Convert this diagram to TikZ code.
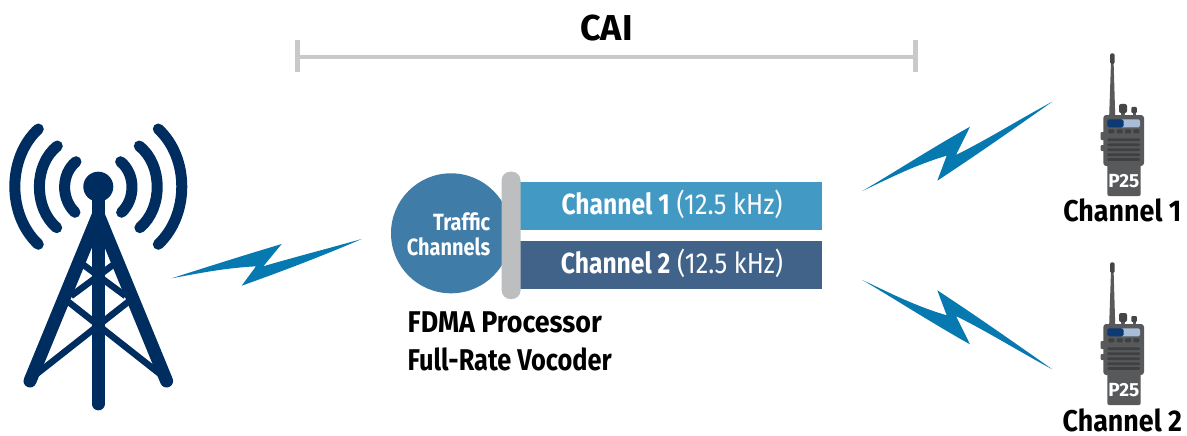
\documentclass[tikz,border=0pt]{standalone}
\usepackage{fontspec}
\setmainfont[FakeStretch=0.87]{Fira Sans}
\newfontfamily\medfont[FakeStretch=0.85]{Fira Sans}
\newfontfamily\lblfont[FakeStretch=0.895]{Fira Sans}
\newfontfamily\lblnarrow[FakeStretch=0.845]{Fira Sans}
\newfontfamily\caifont[FakeStretch=1.0]{Fira Sans}
\definecolor{navy}{HTML}{002D5F}
\definecolor{bolt}{HTML}{0579B0}
\definecolor{barg}{HTML}{BCBEC0}
\definecolor{caig}{HTML}{C8C9CB}
\definecolor{circ}{HTML}{3F7CA8}
\definecolor{chA}{HTML}{4299C4}
\definecolor{chB}{HTML}{426389}
\definecolor{radio}{HTML}{58595B}
\definecolor{grill}{HTML}{3F4042}
\definecolor{scrA}{HTML}{0B3A75}
\definecolor{scrB}{HTML}{A9BCD8}
\tikzset{
  leg/.style={navy,line width=13pt,line cap=round,line join=round},
  brace/.style={navy,line width=6.5pt},
  wave/.style={navy,line width=11pt,line cap=round},
  boltfill/.style={fill=bolt,draw=none},
  label/.style={inner sep=0pt,anchor=base west,text=black},
  onbar/.style={inner sep=0pt,anchor=base,text=white,font=\fontsize{29}{29}\selectfont}
}
\newcommand{\radioat}[2]{%
  \begin{scope}[shift={(#1,#2)}]
    % antenna
    \fill[radio] (1111,62) -- (1113.6,62) -- (1115.2,115) -- (1109.2,115) -- cycle;
    \fill[grill!80!radio,rounded corners=1.5pt] (1110,53.3) rectangle (1114.7,64);
    % knobs
    \fill[radio] (1121,110) rectangle (1125,116);
    \fill[grill!80!radio,rounded corners=2pt] (1119,104) rectangle (1127,113);
    \fill[radio] (1132.5,110) rectangle (1136,116);
    \fill[grill!80!radio,rounded corners=1pt] (1131.3,107) rectangle (1136.8,113);
    % side buttons
    \fill[radio,rounded corners=1pt] (1100.5,132) rectangle (1105,140);
    \fill[radio,rounded corners=1pt] (1100.5,145) rectangle (1105,151);
    % body
    \fill[radio,rounded corners=3pt] (1103.3,115) rectangle (1144,166);
    \fill[radio,rounded corners=2pt] (1107.3,160) rectangle (1140.7,196);
    % screen
    \fill[scrB,rounded corners=1.5pt] (1120,119.3) rectangle (1140,127.3);
    \fill[scrA,rounded corners=1.5pt] (1107.3,119.3) rectangle (1123.5,127.3);
    % keys
    \foreach \k in {1108.3,1116.7,1125,1133.3}
      \fill[grill,rounded corners=1pt] (\k,129.3) rectangle ++(6,4);
    % grill
    \foreach \g in {138.3,143.3,148.3,153.3,158}
      \fill[grill,rounded corners=1pt] (1107.3,\g) rectangle (1140,\g+2.8);
  \end{scope}}
\begin{document}
\begin{tikzpicture}[x=1pt,y=-1pt]
\useasboundingbox (0,0) rectangle (1187,436);
\fill[white] (0,0) rectangle (1187,436);

% CAI scale
\coordinate (caiL) at (297.5,57);
\coordinate (caiR) at (915.5,57);
\draw[caig,line width=4pt] (caiL) -- (caiR);
\draw[caig,line width=5pt] (297.5,40) -- (297.5,72);
\draw[caig,line width=5pt] (915.5,40) -- (915.5,72);
\node[label,anchor=base] (cai) at (606.5,41) {\fontsize{36}{36}\selectfont\caifont\bfseries CAI};

% Tower
\draw[leg] (30,381) -- (98.3,215) -- (166.6,381);
\draw[navy,line width=12.7pt,line cap=round] (98.3,190) -- (98.3,404);
\fill[navy] (98.3,186.7) circle (15);
\draw[brace] (34,376) -- (128,302);
\draw[brace] (162.6,376) -- (68.6,302);
\draw[brace] (71,296) -- (117,262);
\draw[brace] (125.6,296) -- (79.6,262);
\draw[wave] (38.3,129) .. controls (7,158) and (7,215) .. (38.3,244.3);
\draw[wave] (57.3,146) .. controls (33.5,165) and (33.5,208) .. (56.7,227.7);
\draw[wave] (76,161.7) .. controls (61,174) and (61,199) .. (75,212.3);
\draw[wave] (158.3,129) .. controls (189.6,158) and (189.6,215) .. (158.3,244.3);
\draw[wave] (139.3,146) .. controls (163.1,165) and (163.1,208) .. (139.9,227.7);
\draw[wave] (120.6,161.7) .. controls (135.6,174) and (135.6,199) .. (121.6,212.3);

% Bolts
\fill[boltfill] (171.7,278.3) .. controls (210,266) and (245,255) .. (281.7,244) -- (263.3,266.3)
  .. controls (295,257) and (330,248) .. (361.7,239)
  .. controls (320,257) and (280,272) .. (241.7,285.7) -- (256,266.3)
  .. controls (225,268) and (200,273) .. cycle;
\fill[boltfill] (862.3,191) .. controls (895,172) and (930,149) .. (970,126.7) -- (956,155)
  .. controls (990,138) and (1020,119) .. (1052.3,101.7)
  .. controls (1015,128) and (975,156) .. (937.3,180.7) -- (946.7,155.7)
  .. controls (915,165) and (890,178) .. cycle;
\fill[boltfill] (862.3,280) .. controls (895,299) and (930,322) .. (970,344.3) -- (956,316)
  .. controls (990,333) and (1020,352) .. (1052.3,369.3)
  .. controls (1015,343) and (975,315) .. (937.3,290.3) -- (946.7,315.3)
  .. controls (915,306) and (890,293) .. cycle;

% Processor
\fill[circ] (451,233.3) circle (60);
\fill[chA] (515,181.7) rectangle (821.7,230);
\fill[chB] (515,240.7) rectangle (821.7,289);
\fill[barg,rounded corners=8.5pt] (501.7,171.7) rectangle (520.5,299);
\node[onbar,font=\fontsize{23.5}{24}\selectfont,anchor=base east] (traffic) at (490.5,230.7) {\medfont\bfseries Traffic};
\node[onbar,font=\fontsize{23.5}{24}\selectfont,anchor=base east] (channels) at (490.5,255) {\medfont\bfseries Channels};
\node[onbar] (ch1) at (672,214) {{\medfont\bfseries Channel 1} (12.5 kHz)};
\node[onbar] (ch2) at (672,273) {{\medfont\bfseries Channel 2} (12.5 kHz)};
\node[label] (fdma) at (407.5,332.3) {\fontsize{30}{30}\selectfont\lblfont\bfseries FDMA Processor};
\node[label] (vocoder) at (407.5,370.7) {\fontsize{30}{30}\selectfont\lblnarrow\bfseries Full-Rate Vocoder};

% Radios
\radioat{0}{0}
\radioat{0}{209}
\node[onbar,font=\fontsize{19}{19}\selectfont\caifont\bfseries] (p1) at (1123.8,187.8) {P25};
\node[onbar,font=\fontsize{19}{19}\selectfont\caifont\bfseries] (p2) at (1123.8,396) {P25};
\node[label,anchor=base] (r1) at (1122.3,221.5) {\fontsize{30}{30}\selectfont\lblfont\bfseries Channel 1};
\node[label,anchor=base] (r2) at (1122.3,431) {\fontsize{30}{30}\selectfont\lblfont\bfseries Channel 2};
\end{tikzpicture}
\end{document}
